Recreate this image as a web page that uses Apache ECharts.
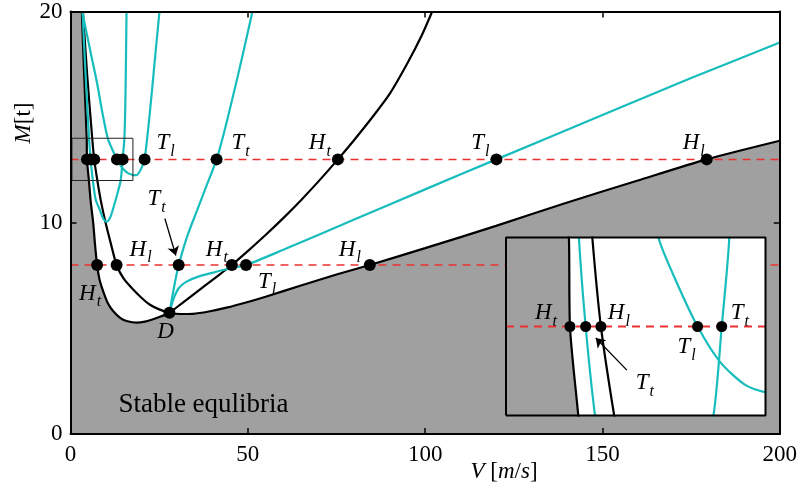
<!DOCTYPE html>
<html><head><meta charset="utf-8">
<script src="https://cdn.jsdelivr.net/npm/echarts@6/dist/echarts.min.js"></script>
<style>html,body{margin:0;padding:0;background:#fff}#c{width:800px;height:490px}</style>
</head><body><div id="c"></div><script>
// ---------------- DATA ----------------
const xTicks = [0, 50, 100, 150, 200];
const yTicks = [0, 10, 20];
const mLevels = [13, 8];
// black curves
const Ht = [[3.2,20],[3.85,17],[4.57,14],[4.64,13],[5.19,12],[5.7,11],[6.4,10],[6.9,9],[7.5,8],[8.2,7.3],[9.2,6.76],[10.5,6.2],[12,5.82],[14,5.5],[15.8,5.35],[18.7,5.27],[21,5.32],[23.3,5.43],[25.6,5.57],[27.9,5.74],[31.5,6.2],[35,6.65],[41,7.42],[45.5,8],[50,8.66],[55,9.42],[60,10.22],[65,11.07],[70,11.97],[75.4,13],[80,13.92],[85,14.97],[90,16.1],[95,17.55],[99,18.85],[102,20]];
const Hl = [[3.5,20],[4.7,17],[6.12,14],[6.69,13],[7.57,12],[8.6,11],[9.9,10],[11.4,9],[13,8],[15,7.35],[17.6,6.85],[20,6.45],[22.3,6.13],[25,5.9],[27.9,5.74],[31,5.68],[34.5,5.69],[39,5.8],[44,5.98],[50,6.25],[55,6.5],[65,7.03],[75,7.55],[84.4,8],[100,8.8],[120,9.85],[139,10.9],[160,12],[179.4,13],[200,13.88]];
// cyan curves
const TtV = [[3.4,20],[4.25,17],[5.23,14],[5.68,13],[6.3,12],[7.1,11.1],[8.3,10.6],[9.2,10.2],[10.2,10.05],[11.2,10.25],[12.0,10.65],[13.1,11.3],[14.15,12],[14.7,13],[15.2,14],[15.5,16],[15.8,20]];
const TlU = [[3.3,20],[5.5,18.2],[7.5,16.6],[9,15.2],[10.5,14],[11.7,13.5],[13.1,13],[14.6,12.6],[16.2,12.35],[17.6,12.26],[18.6,12.25],[19.6,12.45],[20.3,12.7],[20.9,13],[22,14.6],[23,16.3],[24,18.1],[25.1,20]];
const TtD = [[27.9,5.74],[28.7,6.5],[29.6,7.3],[30.5,8],[33,9.4],[35.5,10.5],[38,11.6],[41.2,13],[43.5,14.4],[45.7,15.9],[48.5,17.9],[51.3,20]];
const TlD = [[27.9,5.74],[28.5,6.1],[29.3,6.5],[30.5,6.9],[32.6,7.2],[36,7.45],[40,7.63],[44,7.8],[49.5,8.0],[60,8.72],[80,10.15],[100,11.58],[120.1,13],[150,15.1],[175,16.85],[200,18.53]];
const D = [27.9, 5.74];
// intersection points
const dots13 = [4.64, 5.68, 6.69, 13.1, 14.7, 20.9, 41.2, 75.4, 120.1, 179.4];
const labels13 = ['', '', '', '', '', 'T_l', 'T_t', 'H_t', 'T_l', 'H_l'];
const dots8 = [7.5, 13.0, 30.5, 45.5, 49.5, 84.4];
const labels8 = ['H_t', 'H_l', '', 'H_t', 'T_l', 'H_l'];
const insetLabels13 = ['H_t', '', 'H_l', 'T_l', 'T_t'];
const insetX = [0.4, 17.6];
const insetY = [12, 14];
const regionText = 'Stable equlibria';

// ---------------- STYLE ----------------
const FONT = 'Liberation Serif';
const CYAN = '#17bdbd';
const RED = '#ec3030';
const GRAY = '#a0a0a0';
const off13 = [null, null, null, null, null, [21,-17], [24,-17], [-18,-17], [-16,-17], [-13,-17]];
const off8 = [[-7,28], [24,-16], null, [-15,-16], [21,16], [-20,-16]];
const offInset = [[-24,-14], null, [18,-14], [-11,20], [18,-14]];
const arrowMain = {label:[24.3, 11.13], from:[26.6, 10.2], to:[29.7, 8.45]};
const arrowInset = {label:[9.6, 12.37], from:[8.41, 12.51], to:[6.35, 12.87]};
const regionTextPos = [37.5, 1.36];

const rich = {
  i: {fontFamily: FONT, fontStyle: 'italic', fontSize: 23, color: '#000', lineHeight: 24, verticalAlign: 'bottom'},
  s: {fontFamily: FONT, fontStyle: 'italic', fontSize: 16, color: '#000', lineHeight: 16, verticalAlign: 'bottom', padding: [0,0,-5,1]},
  r: {fontFamily: FONT, fontSize: 23, color: '#000', lineHeight: 24, verticalAlign: 'bottom'}
};
function tex(t) {
  if (!t) return '';
  const p = t.split('_');
  return '{i|' + p[0] + '}' + (p[1] ? '{s|' + p[1] + '}' : '');
}

// stable region boundary: left part of Ht up to D, then lower Hl after D
const boundary = [[0, 20]].concat(Ht.filter(p => p[0] <= D[0]), Hl.filter(p => p[0] > D[0]));
const boxRect = [[insetX[0],insetY[0]],[insetX[1],insetY[0]],[insetX[1],insetY[1]],[insetX[0],insetY[1]],[insetX[0],insetY[0]]];

function lineSeries(data, color, width, xi, yi, z, extra) {
  return Object.assign({type: 'line', data: data, xAxisIndex: xi, yAxisIndex: yi, showSymbol: false, symbol: 'none',
    smooth: 0.25, lineStyle: {color: color, width: width}, z: z, silent: true, animation: false}, extra || {});
}
function dotItem(v, m, t, o) {
  const it = {value: [v, m]};
  if (t && o) it.label = {show: true, position: 'inside', offset: o, formatter: tex(t), rich: rich};
  return it;
}
function arrowMark(a, z) {
  return {silent: true, z: z, symbol: ['none', 'arrow'], symbolSize: 9, lineStyle: {color: '#000', width: 1.3, type: 'solid', opacity: 1},
    itemStyle: {color: '#000'}, label: {show: false}, animation: false, data: [[{coord: a.from}, {coord: a.to}]]};
}

const series = [];
// ----- main grid -----
series.push(lineSeries(boundary, GRAY, 0, 0, 0, 1, {areaStyle: {color: GRAY, opacity: 1, origin: 'start'}}));
mLevels.forEach(l => series.push(lineSeries([[xTicks[0], l], [xTicks[xTicks.length-1], l]], RED, 1.5, 0, 0, 2, {smooth: false, lineStyle: {color: RED, width: 1.5, type: [8, 6]}})));
[Ht, Hl].forEach(c => series.push(lineSeries(c, '#000', 2.2, 0, 0, 3)));
[TtV, TlU, TtD, TlD].forEach(c => series.push(lineSeries(c, CYAN, 2.2, 0, 0, 3)));
series.push(lineSeries(boxRect, '#222', 1, 0, 0, 3, {smooth: false}));
const mainDots = [];
dots13.forEach((v, k) => mainDots.push(dotItem(v, 13, labels13[k], off13[k])));
dots8.forEach((v, k) => mainDots.push(dotItem(v, 8, labels8[k], off8[k])));
mainDots.push(dotItem(D[0], D[1], 'D', [-4, 19]));
series.push({type: 'scatter', xAxisIndex: 0, yAxisIndex: 0, data: mainDots, symbolSize: 12, itemStyle: {color: '#000', opacity: 1}, z: 5, silent: true, animation: false,
  markLine: arrowMark(arrowMain, 6)});
series.push({type: 'scatter', xAxisIndex: 0, yAxisIndex: 0, symbolSize: 0, z: 5, silent: true, animation: false, itemStyle: {opacity: 1},
  data: [{value: arrowMain.label, label: {show: true, position: 'inside', formatter: tex('T_t'), rich: rich}},
         {value: regionTextPos, label: {show: true, position: 'inside', formatter: regionText, fontFamily: FONT, fontSize: 27, color: '#000'}}]});

// ----- inset grid -----
series.push(lineSeries(boundary, GRAY, 0, 2, 2, 11, {areaStyle: {color: GRAY, opacity: 1, origin: 'start'}}));
series.push(lineSeries([[insetX[0], 13], [insetX[1], 13]], RED, 1.5, 2, 2, 12, {smooth: false, lineStyle: {color: RED, width: 1.8, type: [8, 6]}}));
[Ht, Hl].forEach(c => series.push(lineSeries(c, '#000', 2.2, 2, 2, 13)));
[TtV, TlU].forEach(c => series.push(lineSeries(c, CYAN, 2.2, 2, 2, 13)));
const insetDots = dots13.filter(v => v >= insetX[0] && v <= insetX[1]).map((v, k) => dotItem(v, 13, insetLabels13[k], offInset[k]));
series.push({type: 'scatter', xAxisIndex: 2, yAxisIndex: 2, data: insetDots, symbolSize: 11, itemStyle: {color: '#000', opacity: 1}, z: 15, silent: true, animation: false,
  markLine: arrowMark(arrowInset, 16)});
series.push({type: 'scatter', xAxisIndex: 2, yAxisIndex: 2, symbolSize: 0, z: 15, silent: true, animation: false, itemStyle: {opacity: 1},
  data: [{value: arrowInset.label, label: {show: true, position: 'inside', formatter: tex('T_t'), rich: rich}}]});
series.push(lineSeries(boxRect, '#000', 2, 2, 2, 20, {smooth: false, clip: false}));

const axisCommon = {axisLine: {show: true, onZero: false, lineStyle: {color: '#000', width: 2}}, splitLine: {show: false}, z: 10};
const option = {
  animation: false,
  backgroundColor: '#fff',
  grid: [
    {left: 70.5, right: 17.5, top: 8, bottom: 56, z: 0},
    {left: 506, top: 237.5, width: 259.5, height: 178, z: 10, show: true, backgroundColor: '#fff', borderWidth: 0}
  ],
  xAxis: [
    Object.assign({type: 'value', gridIndex: 0, min: xTicks[0], max: xTicks[xTicks.length-1], interval: 50, position: 'bottom',
      axisTick: {show: true, inside: true, length: 6, lineStyle: {color: '#000', width: 1.5}},
      axisLabel: {show: true, margin: 9, fontFamily: FONT, fontSize: 23, color: '#000'}}, axisCommon),
    Object.assign({type: 'value', gridIndex: 0, min: xTicks[0], max: xTicks[xTicks.length-1], interval: 50, position: 'top',
      axisTick: {show: true, inside: true, length: 6, lineStyle: {color: '#000', width: 1.5}}, axisLabel: {show: false}}, axisCommon),
    {type: 'value', gridIndex: 1, min: insetX[0], max: insetX[1], show: false}
  ],
  yAxis: [
    Object.assign({type: 'value', gridIndex: 0, min: yTicks[0], max: yTicks[yTicks.length-1], interval: 10, position: 'left',
      axisTick: {show: true, inside: true, length: 6, lineStyle: {color: '#000', width: 1.5}},
      axisLabel: {show: true, margin: 8, fontFamily: FONT, fontSize: 23, color: '#000'}}, axisCommon),
    Object.assign({type: 'value', gridIndex: 0, min: yTicks[0], max: yTicks[yTicks.length-1], interval: 10, position: 'right',
      axisTick: {show: true, inside: true, length: 6, lineStyle: {color: '#000', width: 1.5}}, axisLabel: {show: false}}, axisCommon),
    {type: 'value', gridIndex: 1, min: insetY[0], max: insetY[1], show: false}
  ],
  graphic: [
    {type: 'text', x: 504, y: 471, z: 50, style: {text: '{i|V}{r| [}{i|m}{r|/}{i|s}{r|]}', rich: rich, align: 'center', verticalAlign: 'middle', textAlign: 'center', textVerticalAlign: 'middle'}},
    {type: 'text', x: 23, y: 123, rotation: Math.PI / 2, z: 50, style: {text: '{i|M}{r|[t]}', rich: rich, align: 'center', verticalAlign: 'middle', textAlign: 'center', textVerticalAlign: 'middle'}}
  ],
  series: series
};
const chart = echarts.init(document.getElementById('c'), null, {renderer: 'canvas'});
chart.setOption(option);
</script></body></html>
